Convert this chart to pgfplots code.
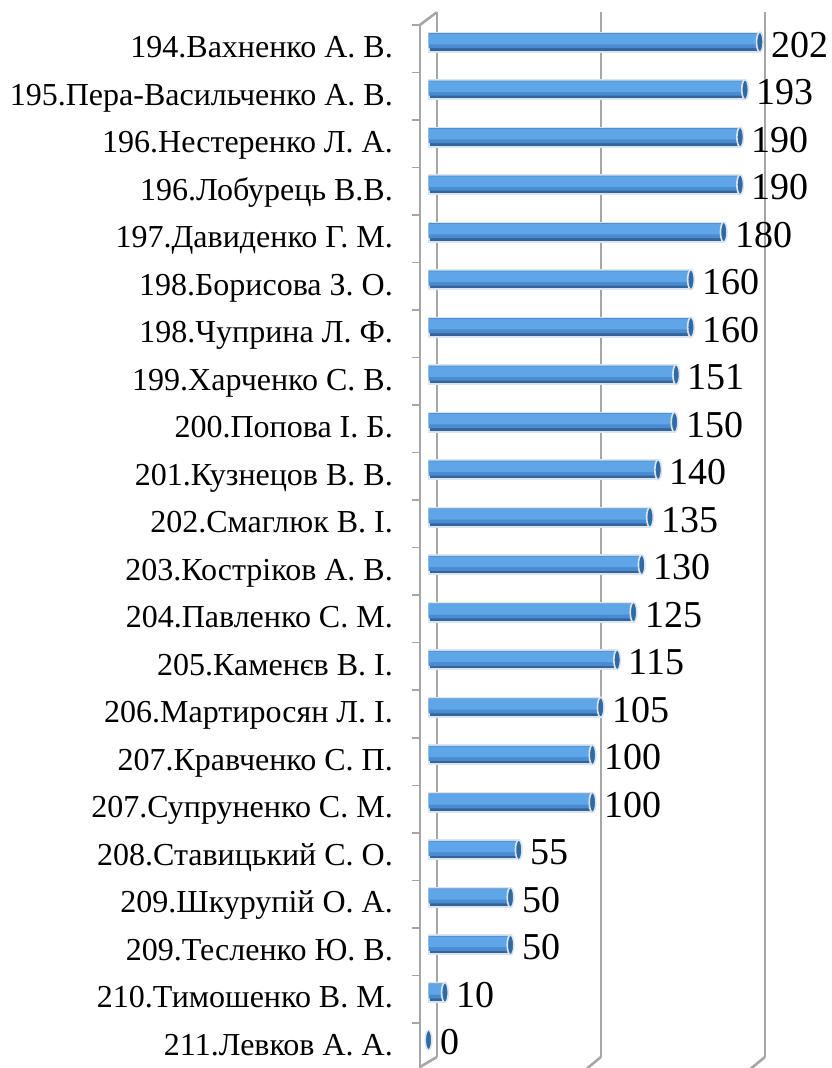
\documentclass[border=0pt]{standalone}
\usepackage{fontspec}
\setmainfont{Liberation Serif}
\usepackage{pgfplots}
\pgfplotsset{compat=1.18}
\definecolor{gridg}{HTML}{A6A6A6}
\definecolor{bA}{HTML}{33659C}
\definecolor{bB}{HTML}{4A8CCF}
\definecolor{bC}{HTML}{5EA6E8}
\definecolor{capd}{HTML}{2F6AA5}
\definecolor{rim}{HTML}{DCE4EE}
\pgfplotstableread{
v y
0 0
10 1
50 2
50 3
55 4
100 5
100 6
105 7
115 8
125 9
130 10
135 11
140 12
150 13
151 14
160 15
160 16
180 17
190 18
190 19
193 20
202 21
}\data
\begin{document}
\begin{tikzpicture}
\begin{axis}[
  at={(420pt,11pt)}, anchor=south west,
  scale only axis,
  width=346.4pt, height=1044.9pt,
  xmin=-5.2, xmax=206,
  ymin=-0.358, ymax=21.63,
  clip=false,
  axis lines*=left,
  axis line style={draw=none},
  xtick={5.1,105.1,205.1}, xticklabels={},
  xtick style={draw=none},
  xmajorgrids,
  grid style={gridg, line width=2.6pt},
  ytick={0,...,21},
  yticklabels={
    211.Левков А. А.,
    210.Тимошенко В. М.,
    209.Тесленко Ю. В.,
    209.Шкурупій О. А.,
    208.Ставицький С. О.,
    207.Супруненко С. М.,
    207.Кравченко С. П.,
    206.Мартиросян Л. І.,
    205.Каменєв В. І.,
    204.Павленко С. М.,
    203.Костріков А. В.,
    202.Смаглюк В. І.,
    201.Кузнецов В. В.,
    200.Попова І. Б.,
    199.Харченко С. В.,
    198.Чуприна Л. Ф.,
    198.Борисова З. О.,
    197.Давиденко Г. М.,
    196.Лобурець В.В.,
    196.Нестеренко Л. А.,
    195.Пера-Васильченко А. В.,
    194.Вахненко А. В.},
  ytick pos=left,
  major tick length=0pt,
  minor ytick={0.36,1.36,...,21.5},
  minor tick length=8pt,
  tick align=outside,
  minor tick style={gridg, line width=1.5pt},
  yticklabel style={font=\fontsize{32}{36}\selectfont, anchor=base east, inner sep=0pt, xshift=-27pt, yshift=-15.5pt},
]
\addplot[xbar, bar width=19pt, bar shift=0pt, draw=rim, line width=2pt, fill=bA] table[x=v,y=y] {\data};
\addplot[xbar, bar width=15pt, bar shift=1.5pt, draw=none, fill=bB] table[x=v,y=y] {\data};
\addplot[xbar, bar width=10.5pt, bar shift=3pt, draw=none, fill=bC] table[x=v,y=y] {\data};
\addplot[only marks, mark=*, mark size=10pt,
  mark options={xscale=0.33, fill=capd, draw=rim, line width=1.6pt},
  point meta=explicit symbolic,
  nodes near coords,
  every node near coord/.style={font=\fontsize{38}{42}\selectfont\rmfamily, anchor=base west, inner sep=0pt, xshift=11pt, yshift=-15pt, text=black}]
  table[x=v,y=y,meta=v] {\data};
\draw[gridg, line width=2.6pt] (axis cs:-5.2,21.36) -- (axis cs:-5.2,-0.6);
\draw[gridg, line width=2.6pt] (axis cs:-5.2,21.36) -- (axis cs:5.1,21.63);
\draw[gridg, line width=2.6pt] (axis cs:5.1,-0.358) -- (axis cs:-5.2,-0.568);
\draw[gridg, line width=2.6pt] (axis cs:105.1,-0.358) -- (axis cs:96.6,-0.6);
\draw[gridg, line width=2.6pt] (axis cs:205.1,-0.358) -- (axis cs:196.6,-0.6);
\end{axis}
\pgfresetboundingbox
\useasboundingbox (0pt,0pt) rectangle (832pt,1068pt);
\end{tikzpicture}
\end{document}
